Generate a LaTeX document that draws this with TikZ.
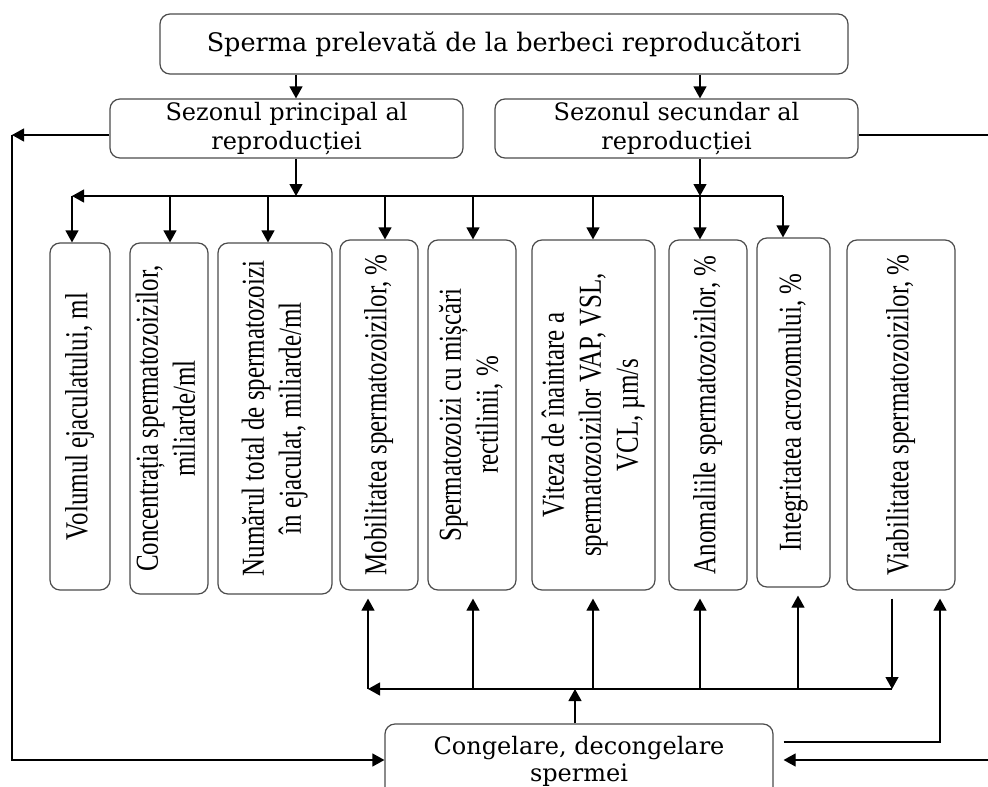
\documentclass[tikz,border=0pt]{standalone}
\usepackage{fontspec}
\usepackage{graphicx}
\usetikzlibrary{arrows.meta}
\newfontfamily\hfont{DejaVu Serif}
\newfontfamily\vfont[FakeStretch=0.78]{Liberation Serif}
\newcommand{\vtext}[1]{\rotatebox{90}{\begin{tabular}{@{}c@{}}#1\end{tabular}}}
\tikzset{
  hbox/.style={draw=black!70, line width=1.2pt, rounded corners=10pt, inner sep=0pt,
    align=center, font=\hfont\fontsize{24}{29}\selectfont},
  vbox/.style={draw=black!70, line width=1.2pt, rounded corners=10pt, inner sep=0pt,
    font=\vfont\fontsize{32}{37}\selectfont},
  link/.style={line width=1.2pt, -{Triangle[width=13pt,length=12pt]}}
}
\begin{document}
\begin{tikzpicture}[x=1pt, y=-1pt]
\useasboundingbox (0,0) rectangle (988,787);

% horizontal boxes
\node[hbox, minimum width=688pt, minimum height=60pt, font=\hfont\fontsize{25.5}{29}\selectfont]
    (src) at (504,44) {Sperma prelevată de la berbeci reproducători};
\node[hbox, minimum width=353pt, minimum height=59pt] (main) at (286.5,128.5)
    {Sezonul principal al\\reproducției};
\node[hbox, minimum width=363pt, minimum height=59pt] (second) at (676.5,128.5)
    {Sezonul secundar al\\reproducției};
\node[hbox, minimum width=388pt, minimum height=75pt, font=\hfont\fontsize{24}{27}\selectfont]
    (freeze) at (579,761.5) {Congelare, decongelare\\spermei};

% indicator boxes
\node[vbox, minimum width=60pt, minimum height=347pt] (vol) at (80,416.5)
    {\vtext{Volumul ejaculatului, ml}};
\node[vbox, minimum width=78pt, minimum height=351pt] (conc) at (169,418.5)
    {\vtext{Concentrația spermatozoizilor,\\miliarde/ml}};
\node[vbox, minimum width=114pt, minimum height=351pt] (num) at (275,418.5)
    {\vtext{Numărul total de spermatozoizi\\în ejaculat, miliarde/ml}};
\node[vbox, minimum width=78pt, minimum height=350pt] (mob) at (379,415)
    {\vtext{Mobilitatea spermatozoizilor, \%}};
\node[vbox, minimum width=88pt, minimum height=350pt] (rect) at (472,415)
    {\vtext{Spermatozoizi cu mișcări\\rectilinii, \%}};
\node[vbox, minimum width=123pt, minimum height=350pt] (vit) at (593.5,415)
    {\vtext{Viteza de înaintare a\\spermatozoizilor VAP, VSL,\\VCL, µm/s}};
\node[vbox, minimum width=78pt, minimum height=350pt] (anom) at (708,415)
    {\vtext{Anomaliile spermatozoizilor, \%}};
\node[vbox, minimum width=73pt, minimum height=349pt] (integ) at (793.5,412.5)
    {\vtext{Integritatea acrozomului, \%}};
\node[vbox, minimum width=108pt, minimum height=350pt] (viab) at (901,415)
    {\vtext{Viabilitatea spermatozoizilor, \%}};

% rails and buses
\coordinate (topbus) at (0,196);
\coordinate (lowbus) at (0,689);
\coordinate (leftrail) at (12,0);
\coordinate (rightrail) at (996,0);

% source to seasons
\draw[link] ([xshift=9.5pt]main.north |- src.south) -- ([xshift=9.5pt]main.north);
\draw[link] ([xshift=23.5pt]second.north |- src.south) -- ([xshift=23.5pt]second.north);

% seasons to the upper bus
\draw[link] ([xshift=9.5pt]main.south) -- ([xshift=9.5pt]main.south |- topbus);
\draw[link] ([xshift=23.5pt]second.south) -- ([xshift=23.5pt]second.south |- topbus);
\draw[link] ([xshift=-10.5pt]integ.north |- topbus) -- ([xshift=-8pt]vol.north |- topbus);
\draw[link] ([xshift=-8pt]vol.north |- topbus) -- ([xshift=-8pt]vol.north);
\foreach \nm/\dx in {conc/1, num/-7, mob/6, rect/1, vit/-0.5, anom/-8, integ/-10.5}
{
    \draw[link] ([xshift=\dx pt]\nm.north |- topbus) -- ([xshift=\dx pt]\nm.north);
}

% seasons to freezing
\draw[link] ([yshift=-6.5pt]main.west) -- ([yshift=-6.5pt]main.west -| leftrail);
\draw[link] ([yshift=-6.5pt]main.west -| leftrail) |- ([yshift=1.5pt]freeze.west);
\draw[link, shorten >=10pt] ([yshift=-6.5pt]second.east) -| (rightrail)
    |- ([yshift=1.5pt]freeze.east);

% freezing to the lower bus
\draw[link] ([xshift=-4pt]freeze.north) -- ([xshift=-4pt]freeze.north |- lowbus);
\draw[link, shorten <=10pt, shorten >=8pt] ([yshift=19.5pt]freeze.east) -| ([xshift=39pt]viab.south);
\draw[link, shorten <=8pt] ([xshift=-9pt]viab.south) -- ([xshift=-9pt]viab.south |- lowbus);
\draw[link] ([xshift=-9pt]viab.south |- lowbus) -- ([xshift=-11pt]mob.south |- lowbus);
\foreach \nm/\dx in {mob/-11, rect/1, vit/-0.5, anom/-8, integ/4.5}
{
    \draw[link, shorten >=8pt] ([xshift=\dx pt]\nm.south |- lowbus) -- ([xshift=\dx pt]\nm.south);
}

\end{tikzpicture}
\end{document}
